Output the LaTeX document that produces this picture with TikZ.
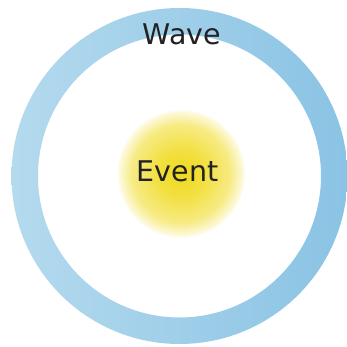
\documentclass[tikz,border=0pt]{standalone}
\usepackage{fontspec}
\setmainfont{DejaVu Sans}
\usepackage{tikz}

\definecolor{wavelight}{RGB}{180,218,238}
\definecolor{wavedark}{RGB}{138,195,228}
\definecolor{eventyellow}{RGB}{240,218,30}
\definecolor{labelgray}{RGB}{34,34,34}

\pgfdeclareradialshading{eventglow}{\pgfpoint{0bp}{0bp}}{%
	color(0bp)=(eventyellow);
	color(9bp)=(eventyellow!85!white);
	color(19bp)=(eventyellow!55!white);
	color(24bp)=(eventyellow!15!white);
	color(25bp)=(white);
	color(50bp)=(white)}

\tikzset{
	bigtext/.style={text=labelgray, font=\fontsize{28.5}{34}\selectfont, inner sep=0pt, anchor=base},
}

\begin{document}
\begin{tikzpicture}[x=1pt, y=1pt]
	\useasboundingbox (0, 0) rectangle (346, 347);
	% Ring and glow:
	\shade[left color=wavelight, right color=wavedark, even odd rule] (179.5, 171) circle (168) (179.5, 171) circle (141.5);
	\shade[shading=eventglow] (181, 173.5) circle (64.5);
	% Labels:
	\node[bigtext] (event) at (177.5, 165) {Event};
	\node[bigtext] (wave) at (182, 302) {Wave};
\end{tikzpicture}
\end{document}
